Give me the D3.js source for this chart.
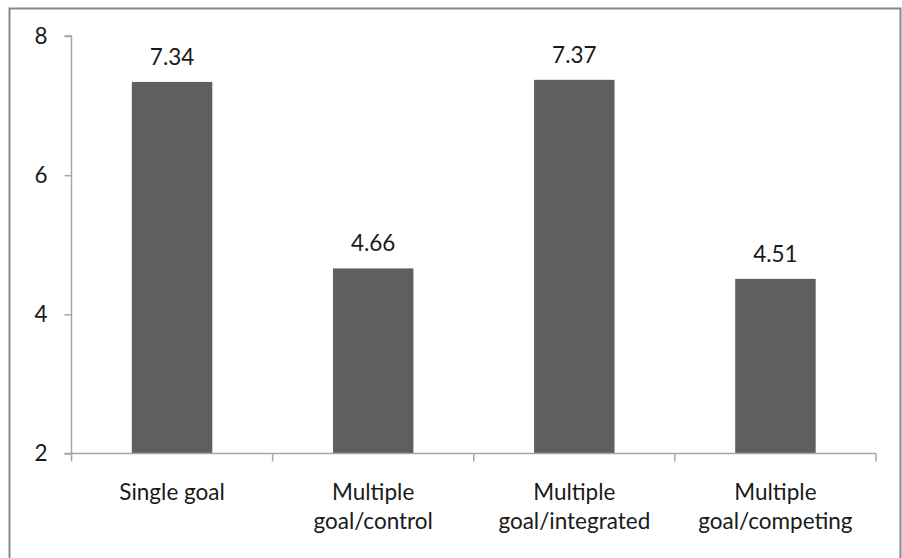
<!DOCTYPE html>
<html>
<head>
<meta charset="utf-8">
<script src="https://cdn.jsdelivr.net/npm/d3@7"></script>
<style>
  html, body { margin: 0; padding: 0; background: #ffffff; }
  svg { display: block; }
</style>
</head>
<body>
<svg id="chart" width="902" height="558"></svg>
<script>
// Chart data
const categories = [
  ["Single goal"],
  ["Multiple", "goal/control"],
  ["Multiple", "goal/integrated"],
  ["Multiple", "goal/competing"]
];
const values = [7.34, 4.66, 7.37, 4.51];
const yTicks = [2, 4, 6, 8];

const W = 902, H = 558;
const margin = { left: 71.5, right: 26, top: 36, bottom: 104.5 };
const plotL = margin.left, plotR = W - margin.right;
const plotT = margin.top, plotB = H - margin.bottom;

const FONT = "Lato, 'Open Sans', sans-serif";
const FS = 22.5;
const axisColor = "#a6a6a6";
const barColor = "#5f5f5f";
const textColor = "#1a1a1a";

const svg = d3.select("#chart");

// outer frame
svg.append("rect")
  .attr("x", 9.5).attr("y", 8.5)
  .attr("width", 891).attr("height", 580)
  .attr("fill", "none")
  .attr("stroke", "#888888")
  .attr("stroke-width", 2);

const x = d3.scaleBand()
  .domain(d3.range(categories.length))
  .range([plotL, plotR])
  .paddingInner(0.6)
  .paddingOuter(0.3);

const y = d3.scaleLinear().domain([2, 8]).range([plotB, plotT]);

// y axis
const yAxis = d3.axisLeft(y)
  .tickValues(yTicks)
  .tickSize(7)
  .tickPadding(17)
  .tickFormat(d3.format("d"));

const gy = svg.append("g")
  .attr("transform", `translate(${plotL},0)`)
  .call(yAxis);
gy.select(".domain").attr("stroke", axisColor).attr("stroke-width", 1.5)
  .attr("d", `M-7,${y(8)}H0V${y(2)}`);
gy.selectAll(".tick line").attr("stroke", axisColor).attr("stroke-width", 1.5);
gy.selectAll(".tick text")
  .attr("fill", textColor)
  .style("font-family", FONT)
  .style("font-size", FS + "px");

// bars
svg.append("g").selectAll("rect")
  .data(values)
  .join("rect")
  .attr("x", (d, i) => x(i))
  .attr("width", x.bandwidth())
  .attr("y", d => y(d))
  .attr("height", d => y(2) - y(d))
  .attr("fill", barColor);

// x axis line and category boundary ticks
const step = x.step();
const boundaries = d3.range(categories.length + 1).map(i => plotL + i * step);
svg.append("line")
  .attr("x1", plotL - 7).attr("x2", plotR)
  .attr("y1", plotB).attr("y2", plotB)
  .attr("stroke", axisColor).attr("stroke-width", 1.5);
svg.append("g").selectAll("line")
  .data(boundaries)
  .join("line")
  .attr("x1", d => d).attr("x2", d => d)
  .attr("y1", plotB).attr("y2", plotB + 8)
  .attr("stroke", axisColor).attr("stroke-width", 1.5);

// value labels
svg.append("g").selectAll("text")
  .data(values)
  .join("text")
  .attr("x", (d, i) => x(i) + x.bandwidth() / 2)
  .attr("y", d => y(d) - 17)
  .attr("text-anchor", "middle")
  .attr("fill", textColor)
  .style("font-family", FONT)
  .style("font-size", FS + "px")
  .text(d => d.toFixed(2));

// category labels
const cat = svg.append("g").selectAll("text")
  .data(categories)
  .join("text")
  .attr("x", (d, i) => x(i) + x.bandwidth() / 2)
  .attr("y", 500)
  .attr("text-anchor", "middle")
  .attr("fill", textColor)
  .style("font-family", FONT)
  .style("font-size", FS + "px");
cat.each(function(lines, i) {
  const t = d3.select(this);
  lines.forEach((ln, j) => {
    t.append("tspan")
      .attr("x", x(i) + x.bandwidth() / 2)
      .attr("dy", j === 0 ? 0 : 29)
      .text(ln);
  });
});
</script>
</body>
</html>
